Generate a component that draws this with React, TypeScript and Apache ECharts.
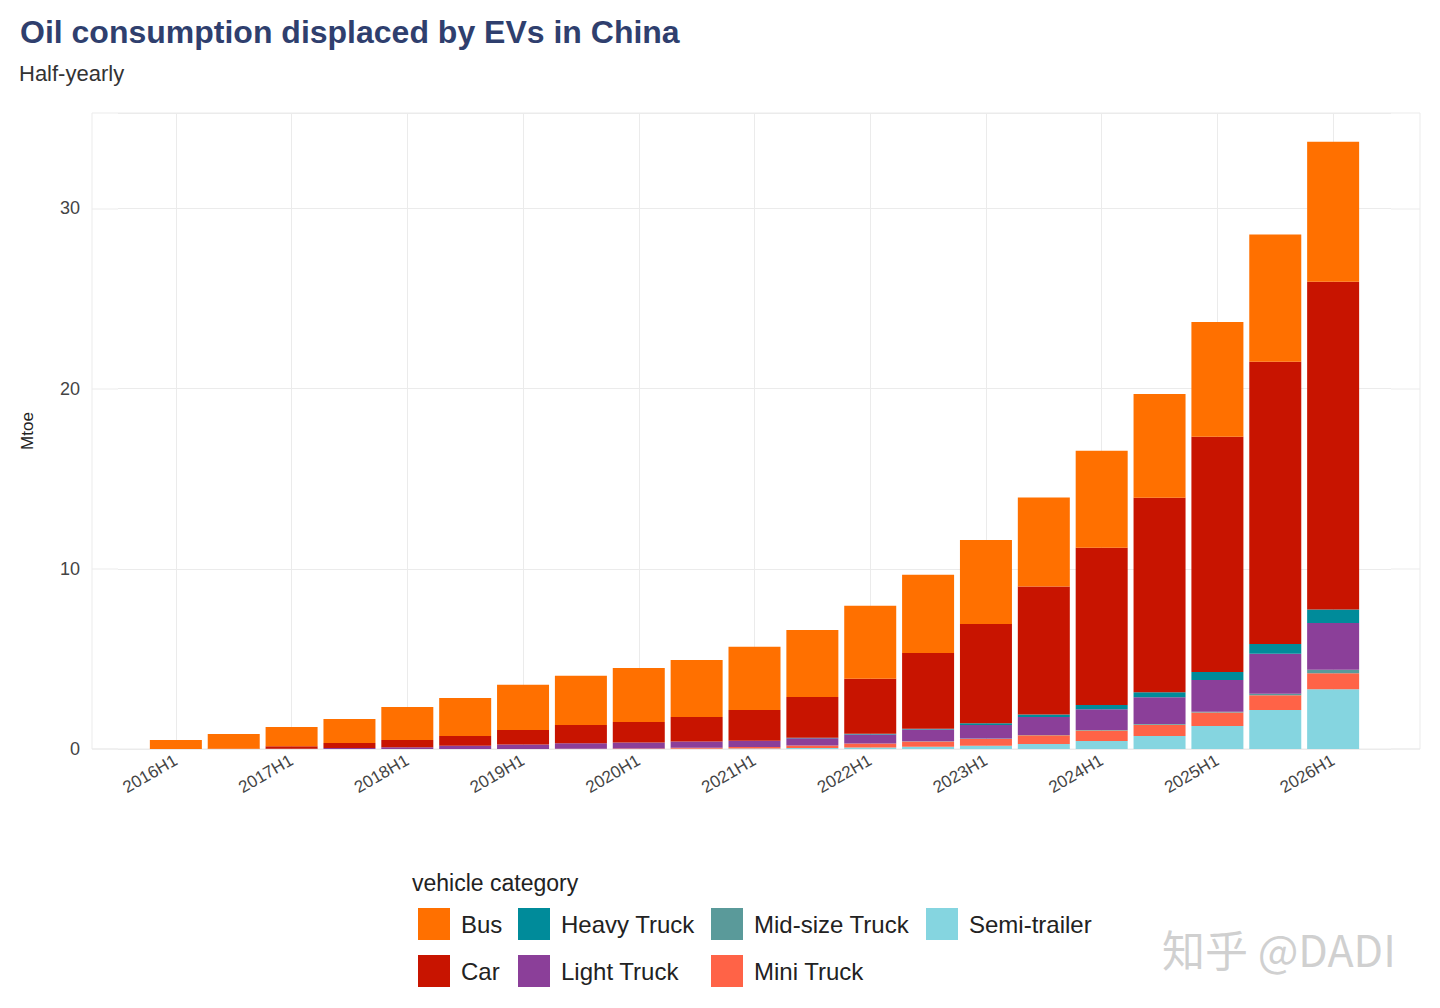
import React, { useEffect, useRef } from "react";
import * as echarts from "echarts";

const periods = ["2016H1","2016H2","2017H1","2017H2","2018H1","2018H2","2019H1","2019H2","2020H1","2020H2","2021H1","2021H2","2022H1","2022H2","2023H1","2023H2","2024H1","2024H2","2025H1","2025H2","2026H1"];
const semiTrailer = [0,0,0,0,0,0,0,0,0,0.02,0.03,0.05,0.08,0.12,0.18,0.28,0.44,0.72,1.28,2.17,3.31];
const miniTruck = [0,0,0,0,0,0,0,0.02,0.03,0.05,0.08,0.15,0.22,0.3,0.38,0.48,0.58,0.63,0.74,0.81,0.9];
const midTruck = [0,0,0,0,0,0,0,0,0,0,0,0,0.01,0.01,0.02,0.02,0.03,0.04,0.05,0.08,0.19];
const lightTruck = [0,0,0.02,0.05,0.1,0.18,0.25,0.3,0.33,0.35,0.35,0.4,0.5,0.65,0.75,1.0,1.15,1.48,1.76,2.22,2.6];
const heavyTruck = [0,0,0,0,0,0,0,0,0,0,0,0.02,0.03,0.05,0.1,0.13,0.24,0.28,0.45,0.55,0.74];
const car = [0,0.02,0.13,0.28,0.4,0.54,0.8,1.01,1.14,1.36,1.71,2.27,3.06,4.2,5.51,7.11,8.73,10.79,13.05,15.67,18.2];
const bus = [0.5,0.81,1.07,1.34,1.83,2.11,2.51,2.73,3.0,3.16,3.5,3.71,4.05,4.34,4.66,4.94,5.39,5.76,6.37,7.06,7.76];
const yTicks = [0, 10, 20, 30];

const seriesDefs = [
  { name: "Semi-trailer", data: semiTrailer, color: "#85d5e0" },
  { name: "Mini Truck", data: miniTruck, color: "#ff6347" },
  { name: "Mid-size Truck", data: midTruck, color: "#5a9a9a" },
  { name: "Light Truck", data: lightTruck, color: "#8b3f99" },
  { name: "Heavy Truck", data: heavyTruck, color: "#008b9a" },
  { name: "Car", data: car, color: "#c81400" },
  { name: "Bus", data: bus, color: "#ff7000" },
];

const legendPos: [string, number, number][] = [
  ["Bus", 418, 908], ["Car", 418, 955],
  ["Heavy Truck", 518, 908], ["Light Truck", 518, 955],
  ["Mid-size Truck", 711, 908], ["Mini Truck", 711, 955],
  ["Semi-trailer", 926, 908],
];

export default function App() {
  const ref = useRef<HTMLDivElement>(null);
  useEffect(() => {
    const chart = echarts.init(ref.current!, null, { renderer: "svg" });
    const cats = ["", ...periods, ""];
    const isH1 = (i: number, v: string) => typeof v === "string" && v.endsWith("H1");
    const font = "Liberation Sans, Arial, sans-serif";
    chart.setOption({
      animation: false,
      textStyle: { fontFamily: font },
      title: [
        { text: "Oil consumption displaced by EVs in China", left: 15, top: 11, textStyle: { fontSize: 32, fontWeight: "bold", color: "#2f3f6e" } },
        { text: "Half-yearly", left: 14, top: 57, textStyle: { fontSize: 22, fontWeight: "normal", color: "#333" } },
      ],
      graphic: [
        { type: "rect", shape: { x: 92, y: 113, width: 1328, height: 636 }, style: { fill: "none", stroke: "#ebebeb", lineWidth: 1 }, z: -1 },
        ...yTicks.map((t) => {
          const y = 749 - t * 18;
          return { type: "group", children: [
            { type: "line", shape: { x1: 92, y1: y, x2: 118, y2: y }, style: { stroke: "#ebebeb" } },
            { type: "line", shape: { x1: 1391, y1: y, x2: 1420, y2: y }, style: { stroke: "#ebebeb" } },
          ] };
        }),
        { type: "text", left: 412, top: 871, style: { text: "vehicle category", fontSize: 23, fill: "#222", fontFamily: font } },
        { type: "text", left: 1162, top: 926, style: { text: "知乎 @DADI", fontSize: 43, fill: "rgba(200,200,200,0.85)", fontFamily: "Noto Sans CJK SC" } },
      ],
      legend: legendPos.map(([n, x, y]) => ({
        data: [n], left: x, top: y, itemWidth: 32, itemHeight: 32, itemGap: 0,
        icon: "rect", textStyle: { fontSize: 24, color: "#222", padding: [0, 0, 0, 6] }, padding: 0,
      })),
      grid: { left: 118, right: 49, top: 113, bottom: 259 },
      xAxis: {
        type: "category", data: cats, boundaryGap: false,
        axisLine: { show: false }, axisTick: { show: false },
        axisLabel: { interval: isH1 as any, rotate: 30, fontSize: 17, color: "#444", margin: 10 },
        splitLine: { show: true, interval: isH1 as any, lineStyle: { color: "#ebebeb" } },
      },
      yAxis: {
        type: "value", min: 0, max: 35.3, interval: 10,
        name: "Mtoe", nameLocation: "middle", nameGap: 82, nameRotate: 90,
        nameTextStyle: { fontSize: 17, color: "#222" },
        axisLabel: { fontSize: 18, color: "#444", margin: 38, showMaxLabel: false },
        splitLine: { lineStyle: { color: "#ebebeb" } },
      },
      series: seriesDefs.map((s) => ({
        name: s.name, type: "bar", stack: "t", barWidth: 52,
        data: [null, ...s.data, null],
        itemStyle: { color: s.color },
      })),
    });
    return () => chart.dispose();
  }, []);
  return <div ref={ref} style={{ width: 1440, height: 1008, margin: -8 }} />;
}
